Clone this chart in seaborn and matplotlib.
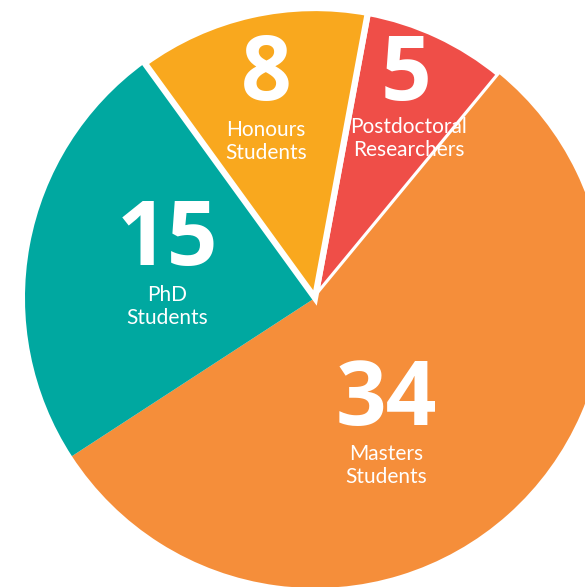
import matplotlib
matplotlib.use("Agg")
import matplotlib.pyplot as plt
import seaborn as sns

# data, clockwise from the top
groups = ["Postdoctoral\nResearchers", "Masters\nStudents", "PhD\nStudents", "Honours\nStudents"]
counts = [5, 34, 15, 8]
colours = ["#EF4E48", "#F58E3A", "#00A8A0", "#F9A81E"]

sns.set_theme(style="white")
plt.rcParams["font.family"] = ["Open Sans", "DejaVu Sans"]

fig = plt.figure(figsize=(5.85, 5.87), dpi=100)
ax = fig.add_axes([0, 0, 1, 1])

wedges, _ = ax.pie(counts, colors=sns.color_palette(colours), startangle=79.5,
                   counterclock=False, radius=1.0)

# only the small top slices get the white separating edge
for w, g in zip(wedges, groups):
    if g.startswith("Masters") or g.startswith("PhD"):
        w.set_edgecolor("none")
    else:
        w.set_edgecolor("white")
        w.set_linewidth(4.5)

# label placement (pie units) for number and caption of each slice
num_pos = [(0.315, 0.762), (0.245, -0.359), (-0.510, 0.193), (-0.169, 0.762)]
cap_pos = [(0.322, 0.550), (0.245, -0.578), (-0.510, -0.030), (-0.169, 0.540)]

for g, n, (nx, ny), (cx, cy) in zip(groups, counts, num_pos, cap_pos):
    ax.text(nx, ny, str(n), color="white", fontsize=64, fontweight="bold",
            ha="center", va="center")
    ax.text(cx, cy, g, color="white", fontsize=15, ha="center", va="center",
            linespacing=1.2, family=["Lato", "DejaVu Sans"])

ax.set_xlim(-315 / 290, 270 / 290)
ax.set_ylim(-289 / 290, 298 / 290)
ax.set_aspect("equal")
ax.axis("off")

fig.savefig("out.png", dpi=100, facecolor="white")
